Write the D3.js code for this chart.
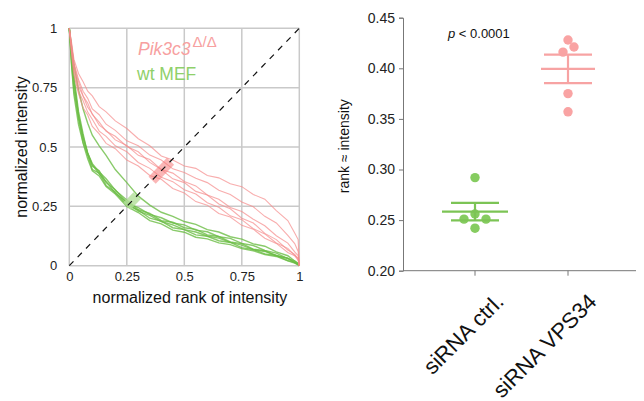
<!DOCTYPE html>
<html lang="en">
<head>
<meta charset="UTF-8" />
<title>Rank vs intensity</title>
<script src="https://d3js.org/d3.v7.min.js"></script>
<style>
  body { margin: 0; background: #fff; }
  svg { font-family: "Liberation Sans", Arial, Helvetica, sans-serif; }
</style>
</head>
<body>
<svg id="chart" width="644" height="401"></svg>
<script>
// normalized rank positions shared by all curves
const rankSteps = [0, 0.01, 0.02, 0.04, 0.06, 0.08, 0.1, 0.13, 0.16, 0.2, 0.25, 0.3, 0.35, 0.4,
  0.45, 0.5, 0.55, 0.6, 0.65, 0.7, 0.75, 0.8, 0.85, 0.9, 0.95, 0.98, 0.995, 1];

// Pik3c3 del/del curves (normalized intensity)
const pinkCurves = [
  [1, 0.94, 0.87, 0.81, 0.775, 0.735, 0.715, 0.67, 0.648, 0.61, 0.578, 0.535, 0.505, 0.462, 0.445, 0.42, 0.41, 0.38, 0.37, 0.345, 0.333, 0.3, 0.28, 0.232, 0.19, 0.138, 0.11, 0],
  [1, 0.93, 0.855, 0.785, 0.735, 0.705, 0.66, 0.636, 0.596, 0.57, 0.526, 0.505, 0.466, 0.445, 0.408, 0.393, 0.368, 0.35, 0.318, 0.3, 0.268, 0.248, 0.208, 0.18, 0.128, 0.093, 0.06, 0],
  [1, 0.91, 0.845, 0.755, 0.715, 0.668, 0.64, 0.592, 0.57, 0.53, 0.506, 0.465, 0.447, 0.405, 0.39, 0.355, 0.336, 0.298, 0.28, 0.245, 0.228, 0.196, 0.168, 0.126, 0.095, 0.058, 0.042, 0],
  [1, 0.92, 0.845, 0.775, 0.715, 0.685, 0.637, 0.605, 0.566, 0.545, 0.502, 0.48, 0.435, 0.405, 0.366, 0.35, 0.313, 0.298, 0.26, 0.24, 0.2, 0.18, 0.136, 0.11, 0.066, 0.048, 0.028, 0],
  [1, 0.9, 0.825, 0.735, 0.695, 0.647, 0.617, 0.567, 0.545, 0.505, 0.48, 0.435, 0.41, 0.372, 0.354, 0.32, 0.302, 0.265, 0.246, 0.21, 0.194, 0.156, 0.134, 0.096, 0.073, 0.043, 0.031, 0],
  [1, 0.89, 0.805, 0.725, 0.665, 0.635, 0.587, 0.555, 0.515, 0.493, 0.445, 0.42, 0.38, 0.364, 0.325, 0.306, 0.27, 0.255, 0.22, 0.205, 0.17, 0.154, 0.116, 0.094, 0.056, 0.042, 0.022, 0]
];

// wt MEF curves
const greenCurves = [
  [1, 0.92, 0.85, 0.74, 0.66, 0.6, 0.55, 0.505, 0.465, 0.405, 0.35, 0.293, 0.255, 0.225, 0.208, 0.186, 0.174, 0.152, 0.142, 0.122, 0.112, 0.092, 0.082, 0.058, 0.042, 0.02, 0.01, 0],
  [1, 0.89, 0.78, 0.63, 0.545, 0.475, 0.43, 0.395, 0.366, 0.318, 0.277, 0.236, 0.22, 0.19, 0.183, 0.16, 0.153, 0.13, 0.123, 0.1, 0.093, 0.07, 0.063, 0.042, 0.032, 0.013, 0.008, 0],
  [1, 0.85, 0.74, 0.62, 0.52, 0.465, 0.405, 0.39, 0.338, 0.31, 0.255, 0.234, 0.2, 0.188, 0.16, 0.152, 0.13, 0.124, 0.105, 0.098, 0.076, 0.068, 0.05, 0.043, 0.022, 0.014, 0.004, 0],
  [1, 0.9, 0.8, 0.65, 0.555, 0.47, 0.425, 0.387, 0.355, 0.305, 0.268, 0.23, 0.212, 0.186, 0.172, 0.152, 0.142, 0.125, 0.116, 0.098, 0.087, 0.068, 0.06, 0.043, 0.031, 0.014, 0.006, 0],
  [1, 0.84, 0.72, 0.595, 0.515, 0.45, 0.4, 0.378, 0.333, 0.302, 0.25, 0.224, 0.19, 0.176, 0.15, 0.141, 0.12, 0.113, 0.096, 0.089, 0.072, 0.063, 0.047, 0.039, 0.02, 0.011, 0.003, 0],
  [1, 0.87, 0.77, 0.635, 0.535, 0.475, 0.42, 0.4, 0.35, 0.32, 0.264, 0.245, 0.216, 0.202, 0.18, 0.172, 0.15, 0.143, 0.122, 0.115, 0.094, 0.085, 0.064, 0.053, 0.03, 0.02, 0.007, 0]
];

// range of crossing points with the diagonal
const pinkCross = [0.36, 0.44];
const greenCross = [0.25, 0.295];

const gridTicks = [0, 0.25, 0.5, 0.75, 1];
const gridLabels = ["0", "0.25", "0.5", "0.75", "1"];

// right panel
const groups = ["siRNA ctrl.", "siRNA VPS34"];
const ctrlValues = [0.292, 0.256, 0.251, 0.251, 0.242];
const vpsValues = [0.428, 0.421, 0.416, 0.375, 0.357];
const rankTicks = [0.2, 0.25, 0.3, 0.35, 0.4, 0.45];

const pink = "#f58a8a";
const green = "#6cbd45";

const svg = d3.select("#chart");

// ---------- left panel ----------
const x = d3.scaleLinear().domain([0, 1]).range([69.3, 299.3]);
const y = d3.scaleLinear().domain([0, 1]).range([265.7, 28.3]);

const left = svg.append("g");

left.selectAll(".vgrid").data(gridTicks).enter().append("line")
  .attr("x1", d => x(d)).attr("x2", d => x(d))
  .attr("y1", y(0)).attr("y2", y(1))
  .attr("stroke", "#c9c9c9").attr("stroke-width", 1.5);
left.selectAll(".hgrid").data(gridTicks).enter().append("line")
  .attr("y1", d => y(d)).attr("y2", d => y(d))
  .attr("x1", x(0)).attr("x2", x(1))
  .attr("stroke", "#c9c9c9").attr("stroke-width", 1.5);

const yAx = left.append("g")
  .attr("transform", `translate(${x(0)},0)`)
  .call(d3.axisLeft(y).tickValues(gridTicks).tickFormat((d, i) => gridLabels[i]).tickSize(0).tickPadding(12));
const xAx = left.append("g")
  .attr("transform", `translate(0,${y(0)})`)
  .call(d3.axisBottom(x).tickValues(gridTicks).tickFormat((d, i) => gridLabels[i]).tickSize(0).tickPadding(6));
[yAx, xAx].forEach(a => {
  a.select(".domain").remove();
  a.selectAll("text").attr("font-size", 13).attr("fill", "#222")
    .attr("font-family", '"Liberation Sans", Arial, sans-serif');
});

const line = d3.line().x((d, i) => x(rankSteps[i])).y(d => y(d));

left.selectAll(".gcurve").data(greenCurves).enter().append("path")
  .attr("d", line).attr("fill", "none")
  .attr("stroke", green).attr("stroke-width", 1.4).attr("stroke-opacity", 0.8);
left.selectAll(".pcurve").data(pinkCurves).enter().append("path")
  .attr("d", line).attr("fill", "none")
  .attr("stroke", pink).attr("stroke-width", 1.1).attr("stroke-opacity", 0.7);

// crossing bands along the diagonal
[[pinkCross, "#f57a7a", 0.55], [greenCross, "#b2de98", 0.8]].forEach(([c, col, op]) => {
  left.append("line")
    .attr("x1", x(c[0])).attr("y1", y(c[0]))
    .attr("x2", x(c[1])).attr("y2", y(c[1]))
    .attr("stroke", col).attr("stroke-opacity", op).attr("stroke-width", 10);
});

left.append("line")
  .attr("x1", x(0)).attr("y1", y(0)).attr("x2", x(1)).attr("y2", y(1))
  .attr("stroke", "#111").attr("stroke-width", 1.2).attr("stroke-dasharray", "6,6");

// legend
const lg1 = left.append("text").attr("x", 138).attr("y", 55)
  .attr("font-size", 17.5).attr("fill", "#f7a0a0");
lg1.append("tspan").attr("font-style", "italic").text("Pik3c3");
lg1.append("tspan").attr("font-size", 15).attr("dx", 2).attr("dy", -8).text("Δ/Δ");
left.append("text").attr("x", 137).attr("y", 80)
  .attr("font-size", 17.5).attr("fill", "#8fd06a").text("wt MEF");

left.append("text")
  .attr("transform", `translate(27,${(y(0) + y(1)) / 2}) rotate(-90)`)
  .attr("text-anchor", "middle").attr("font-size", 16).attr("fill", "#111")
  .text("normalized intensity");
left.append("text")
  .attr("x", 190).attr("y", 303)
  .attr("text-anchor", "middle").attr("font-size", 16).attr("fill", "#111")
  .text("normalized rank of intensity");

// ---------- right panel ----------
const yr = d3.scaleLinear().domain([0.2, 0.45]).range([270.7, 17.7]);
const xr = d3.scalePoint().domain(groups).range([475, 568]);

const right = svg.append("g");

const yrAx = right.append("g").attr("transform", "translate(403,0)")
  .call(d3.axisLeft(yr).tickValues(rankTicks).tickFormat(d3.format(".2f")).tickSize(4).tickPadding(4));
yrAx.selectAll("text").attr("font-size", 14).attr("fill", "#222")
  .attr("font-family", '"Liberation Sans", Arial, sans-serif');
yrAx.selectAll("line, path").attr("stroke", "#777");

right.append("line").attr("x1", 403).attr("x2", 636).attr("y1", yr(0.2)).attr("y2", yr(0.2))
  .attr("stroke", "#777");
right.selectAll(".xtick").data(groups).enter().append("line")
  .attr("x1", d => xr(d)).attr("x2", d => xr(d))
  .attr("y1", yr(0.2)).attr("y2", yr(0.2) + 5).attr("stroke", "#777");
right.selectAll(".xlab").data(groups).enter().append("text")
  .attr("transform", d => `translate(${xr(d) + 30},303) rotate(-45)`)
  .attr("text-anchor", "end").attr("font-size", 22).attr("fill", "#111")
  .text(d => d);

right.append("text")
  .attr("transform", `translate(349,${(yr(0.2) + yr(0.45)) / 2 + 2}) rotate(-90)`)
  .attr("text-anchor", "middle").attr("font-size", 14).attr("fill", "#111")
  .text("rank ≈ intensity");

const pt = right.append("text").attr("x", 448).attr("y", 38).attr("font-size", 13).attr("fill", "#111");
pt.append("tspan").attr("font-style", "italic").text("p");
pt.append("tspan").text(" < 0.0001");

const sets = [
  { g: groups[0], vals: ctrlValues, col: "#86cc60", bar: "#7cc455", meanHalf: 33, semHalf: 24, offs: [0, 0, -11, 11, 0] },
  { g: groups[1], vals: vpsValues, col: "#f9a3a3", bar: "#f7a3a3", meanHalf: 27, semHalf: 24, offs: [0, 6, -5, 0, 0] }
];

sets.forEach(s => {
  const cx = xr(s.g);
  const m = d3.mean(s.vals);
  const sem = d3.deviation(s.vals) / Math.sqrt(s.vals.length);
  right.selectAll(null).data(s.vals).enter().append("circle")
    .attr("cx", (d, i) => cx + s.offs[i]).attr("cy", d => yr(d))
    .attr("r", 4.7).attr("fill", s.col);
  const eb = right.append("g").attr("stroke", s.bar).attr("stroke-width", 2.2);
  eb.append("line").attr("x1", cx - s.meanHalf).attr("x2", cx + s.meanHalf)
    .attr("y1", yr(m)).attr("y2", yr(m));
  [m - sem, m + sem].forEach(v => {
    eb.append("line").attr("x1", cx - s.semHalf).attr("x2", cx + s.semHalf)
      .attr("y1", yr(v)).attr("y2", yr(v));
  });
  eb.append("line").attr("x1", cx).attr("x2", cx)
    .attr("y1", yr(m - sem)).attr("y2", yr(m + sem));
});
</script>
</body>
</html>
